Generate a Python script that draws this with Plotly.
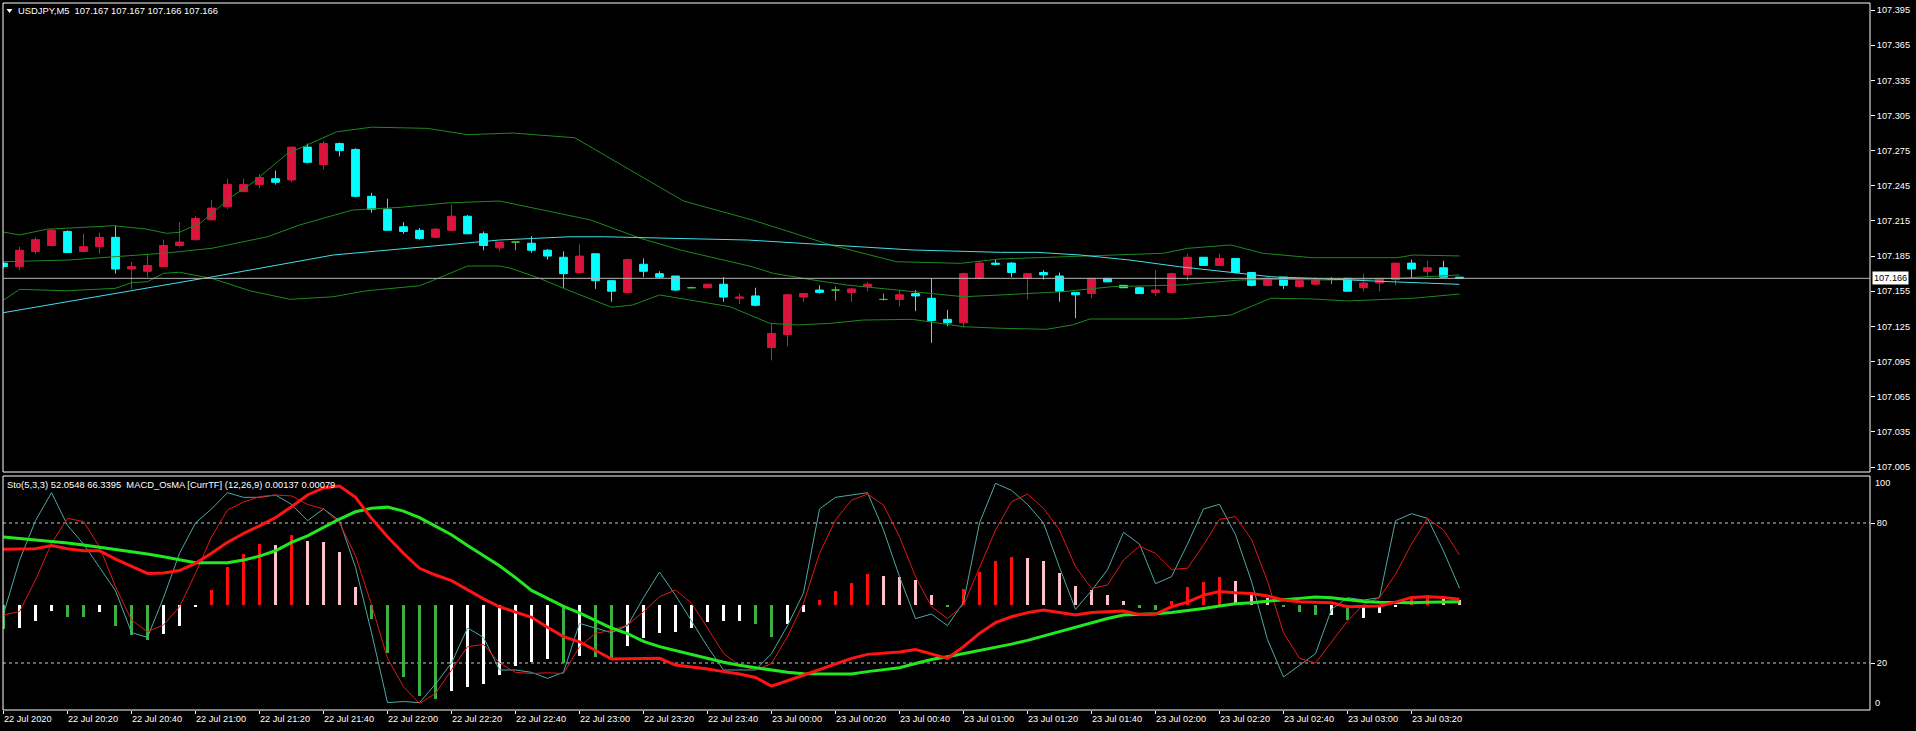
import plotly.graph_objects as go

# ---------------- data ----------------
bar_index = list(range(92))

open_ = [107.179, 107.176, 107.189, 107.194, 107.206, 107.189, 107.193, 107.201, 107.174, 107.172,
         107.176, 107.194, 107.199, 107.216, 107.227, 107.240, 107.246, 107.251, 107.250, 107.278,
         107.263, 107.281, 107.276, 107.236, 107.225, 107.210, 107.207, 107.201, 107.207, 107.219,
         107.204, 107.192, 107.197, 107.196, 107.190, 107.184, 107.171, 107.187, 107.164, 107.154,
         107.178, 107.170, 107.168, 107.158, 107.158, 107.161, 107.149, 107.151, 107.107, 107.118,
         107.150, 107.156, 107.156, 107.154, 107.159, 107.148, 107.148, 107.153, 107.149, 107.131,
         107.128, 107.166, 107.179, 107.179, 107.166, 107.171, 107.168, 107.154, 107.153, 107.166,
         107.160, 107.158, 107.154, 107.154, 107.169, 107.184, 107.177, 107.183, 107.171, 107.160,
         107.167, 107.159, 107.161, 107.165, 107.166, 107.158, 107.162, 107.165, 107.179, 107.172,
         107.175, 107.167]
high = [107.180, 107.193, 107.201, 107.208, 107.207, 107.204, 107.205, 107.211, 107.180, 107.187,
        107.199, 107.214, 107.219, 107.233, 107.251, 107.251, 107.255, 107.258, 107.278, 107.281,
        107.283, 107.282, 107.277, 107.239, 107.234, 107.214, 107.209, 107.209, 107.229, 107.220,
        107.206, 107.197, 107.197, 107.202, 107.191, 107.189, 107.195, 107.187, 107.164, 107.183,
        107.183, 107.172, 107.168, 107.159, 107.161, 107.167, 107.153, 107.158, 107.127, 107.153,
        107.153, 107.160, 107.159, 107.158, 107.163, 107.153, 107.156, 107.156, 107.166, 107.139,
        107.171, 107.181, 107.182, 107.180, 107.170, 107.173, 107.171, 107.154, 107.166, 107.166,
        107.160, 107.159, 107.173, 107.171, 107.187, 107.184, 107.187, 107.183, 107.171, 107.167,
        107.167, 107.164, 107.167, 107.167, 107.166, 107.170, 107.166, 107.179, 107.182, 107.181,
        107.181, 107.167]
low = [107.175, 107.173, 107.187, 107.193, 107.188, 107.188, 107.187, 107.170, 107.157, 107.167,
       107.176, 107.193, 107.198, 107.215, 107.225, 107.240, 107.243, 107.246, 107.248, 107.264,
       107.259, 107.270, 107.235, 107.222, 107.207, 107.204, 107.199, 107.200, 107.206, 107.204,
       107.190, 107.189, 107.190, 107.188, 107.182, 107.158, 107.170, 107.157, 107.146, 107.153,
       107.167, 107.166, 107.155, 107.158, 107.158, 107.146, 107.144, 107.142, 107.096, 107.108,
       107.146, 107.153, 107.147, 107.146, 107.155, 107.147, 107.142, 107.138, 107.111, 107.125,
       107.124, 107.165, 107.177, 107.167, 107.148, 107.165, 107.146, 107.132, 107.149, 107.163,
       107.158, 107.153, 107.151, 107.153, 107.164, 107.177, 107.177, 107.170, 107.159, 107.159,
       107.157, 107.158, 107.160, 107.161, 107.155, 107.155, 107.155, 107.160, 107.166, 107.167,
       107.167, 107.166]
close = [107.176, 107.190, 107.199, 107.207, 107.188, 107.193, 107.201, 107.174, 107.176, 107.177,
         107.194, 107.197, 107.217, 107.226, 107.246, 107.246, 107.252, 107.248, 107.278, 107.265,
         107.281, 107.275, 107.236, 107.225, 107.207, 107.206, 107.200, 107.208, 107.219, 107.204,
         107.194, 107.197, 107.197, 107.190, 107.185, 107.170, 107.185, 107.164, 107.155, 107.182,
         107.172, 107.167, 107.156, 107.158, 107.161, 107.150, 107.150, 107.143, 107.119, 107.152,
         107.153, 107.154, 107.156, 107.157, 107.161, 107.148, 107.152, 107.151, 107.130, 107.128,
         107.170, 107.179, 107.178, 107.171, 107.170, 107.169, 107.155, 107.152, 107.166, 107.163,
         107.158, 107.153, 107.156, 107.170, 107.184, 107.177, 107.183, 107.171, 107.160, 107.166,
         107.160, 107.164, 107.165, 107.165, 107.155, 107.162, 107.166, 107.179, 107.174, 107.175,
         107.167, 107.166]

# Bollinger bands (green) and moving average (cyan), read at bar positions
bb_upper_bar = [0, 1, 2.7, 6.9, 8.9, 10.2, 11, 12.3, 14.3, 15.6, 17.7, 19.6, 20.8, 23, 26.5, 29, 31.8,
                35.7, 38.7, 42.5, 46.8, 51.7, 55.8, 59.8, 62.3, 67.3, 72.5, 74, 76.7, 78.7, 81.8, 87.1, 88.1, 91]
bb_upper = [107.2055, 107.203, 107.2079, 107.2109, 107.2081, 107.2044, 107.2053, 107.2132, 107.236, 107.248,
            107.272, 107.284, 107.291, 107.295, 107.294, 107.2886, 107.290, 107.286, 107.262, 107.232,
            107.2158, 107.1945, 107.1802, 107.1788, 107.1825, 107.1851, 107.1874, 107.1916, 107.1945,
            107.1874, 107.1836, 107.1836, 107.1859, 107.1851]
bb_mid_bar = [0, 4, 7, 10, 13, 16.5, 18.5, 20.6, 21.8, 24.8, 27.9, 31, 36.7, 39.8, 42.3, 46.8, 48.1, 50.6,
              52.7, 55.8, 60, 62.3, 66.2, 69.3, 73.5, 77.3, 79.8, 82.9, 87.1, 91]
bb_mid = [107.1802, 107.1816, 107.1845, 107.1874, 107.1916, 107.2015, 107.2115, 107.220, 107.2243, 107.2266,
          107.2305, 107.232, 107.2158, 107.2002, 107.1902, 107.1759, 107.1703, 107.1646, 107.1603, 107.1561,
          107.1503, 107.1518, 107.1546, 107.1589, 107.1603, 107.1646, 107.1652, 107.1646, 107.166, 107.1689]
bb_lower_bar = [0, 1, 4, 7, 8, 9, 10, 11, 13, 15.4, 17.9, 20.6, 22.7, 26, 26.8, 29, 31, 31.7, 33.5, 35,
                38, 39.3, 41, 42.3, 45.4, 47.9, 49.6, 51.7, 53.7, 56.8, 60, 62.3, 65.2, 66.8, 67.9, 73.5,
                76.7, 79.2, 81.8, 84, 88.1, 91]
bb_lower = [107.1475, 107.1566, 107.1554, 107.1575, 107.1623, 107.1631, 107.1703, 107.1712, 107.166, 107.1554,
            107.1481, 107.1503, 107.1554, 107.1597, 107.164, 107.1765, 107.1765, 107.1746, 107.166, 107.1575,
            107.1413, 107.1432, 107.1518, 107.149, 107.1418, 107.1276, 107.1262, 107.1276, 107.1304, 107.131,
            107.1247, 107.1234, 107.1225, 107.1262, 107.1313, 107.1313, 107.1347, 107.149, 107.1484, 107.1467,
            107.149, 107.1526]
ma_bar = [0, 13.1, 20.6, 31, 35.4, 37.5, 46.5, 51.7, 56.8, 62.3, 64.6, 67.3, 70.4, 73.5, 77.3, 79.2, 81.8,
          84, 86.7, 91]
ma_value = [107.1367, 107.1674, 107.1859, 107.1987, 107.2015, 107.2015, 107.1987, 107.1945, 107.1902, 107.1882,
            107.1882, 107.1859, 107.1816, 107.1759, 107.1703, 107.1674, 107.166, 107.1646, 107.1631, 107.1609]

last_price = 107.166
price_ticks = [107.005, 107.035, 107.065, 107.095, 107.125, 107.155, 107.185, 107.215,
               107.245, 107.275, 107.305, 107.335, 107.365, 107.395]

time_tick_bars = list(range(0, 92, 4))
time_labels = ["22 Jul 2020", "22 Jul 20:20", "22 Jul 20:40", "22 Jul 21:00", "22 Jul 21:20",
               "22 Jul 21:40", "22 Jul 22:00", "22 Jul 22:20", "22 Jul 22:40", "22 Jul 23:00",
               "22 Jul 23:20", "22 Jul 23:40", "23 Jul 00:00", "23 Jul 00:20", "23 Jul 00:40",
               "23 Jul 01:00", "23 Jul 01:20", "23 Jul 01:40", "23 Jul 02:00", "23 Jul 02:20",
               "23 Jul 02:40", "23 Jul 03:00", "23 Jul 03:20"]

# Stochastic (5,3,3)
stoch_main = [41, 64, 81, 93, 79, 71, 61, 51, 33, 31,
              48, 67, 80, 86, 93, 91, 91, 92, 88, 81,
              86, 81, 61, 33, 3, 3.5, 3, 11, 20, 35,
              31, 17, 17, 16, 13.4, 16, 37, 35, 33, 36,
              48, 59, 49, 38, 27, 17, 17, 17, 24, 36,
              50, 86, 91, 92, 93, 77, 57, 39, 41, 36,
              46, 80, 97, 94, 88, 80, 61, 43, 51, 60,
              76, 71, 54, 57, 71, 86, 88, 75, 55, 30,
              14, 19, 24, 43, 48, 47, 48, 81, 84, 82,
              68, 52.05]
stoch_signal = [40.6, 42, 55.6, 71.3, 82, 80.6, 69.8, 52.7, 38.4, 33.4,
                36.3, 44.1, 58.4, 74, 85.6, 89, 91.3, 92, 91.6, 88,
                86, 80, 66, 45, 22, 9.8, 2.7, 7, 17, 27,
                28, 20, 16, 15.5, 15.8, 15.5, 27, 32.7, 34, 36.3,
                42, 48.4, 51.3, 45.6, 35, 24.1, 19, 17, 19.8, 31.3,
                45.6, 67, 81.3, 89.8, 92.4, 87.7, 74.1, 57, 44.1, 39.1,
                44.8, 61.3, 77, 89.1, 92.4, 86.3, 77, 61.3, 52, 53.4,
                64.1, 70.1, 67, 60.1, 60.6, 70.6, 81.6, 82.7, 73, 55,
                33, 22, 20, 29, 38, 45, 48, 58, 71, 82,
                77, 66.34]

# MACD_OsMA, as drawn in the sub-window scale
osma_zero_level = 44.8
macd_main = [68.7, 68.7, 69, 70.3, 69, 68.1, 68.1, 64.5, 61.5, 58.4,
             58.6, 59.6, 62.7, 67, 71.7, 75.5, 78.8, 82.3, 87, 92,
             95, 95.8, 91, 82, 74.1, 67, 60.6, 57.7, 55.3, 51.3,
             47.5, 44.1, 41.8, 39.6, 35.3, 31.3, 29.1, 25.3, 21.7, 21.8,
             22, 22, 19.1, 18.4, 17.4, 16.3, 15.3, 13.8, 10.1, 12.4,
             14.8, 17, 19.6, 22, 23.7, 24.3, 24.7, 25.8, 23.8, 22,
             27, 32.7, 37.3, 39.8, 41.6, 42.7, 41.6, 40.6, 41.6, 42.1,
             42.3, 40.8, 41, 44.1, 46.1, 49.1, 50.6, 50.1, 49.8, 48.7,
             47, 46.3, 46.1, 45.8, 44.1, 44.1, 44.4, 46.1, 48.1, 48.4,
             48.1, 47.3]
macd_signal = [74, 73.4, 72.8, 72.3, 71.4, 70.6, 69.7, 68.7, 67.7, 66.7,
               65.5, 64.3, 63, 63, 63, 64.1, 65.8, 68.1, 71.7, 74.5,
               78.2, 81.7, 84.8, 86.3, 86.8, 85.1, 82.3, 78.8, 75, 70.4,
               66, 61.7, 56.6, 51.1, 47.7, 44.3, 41.5, 38.1, 35, 32.6,
               29.3, 27, 25.3, 23.4, 21.8, 20.3, 19, 17.9, 17, 16,
               15.4, 15.3, 15.3, 15.3, 16.3, 17.3, 18, 19.8, 21.5, 22.7,
               24, 25.4, 26.7, 28.1, 29.7, 31.6, 33.3, 35.3, 37.3, 39.1,
               40.6, 40.8, 41.1, 41.6, 42.4, 43.4, 44.4, 45.4, 45.8, 46.6,
               47.1, 47.7, 48.3, 48, 47.1, 46.4, 46, 45.8, 45.8, 46,
               46.1, 46.3]
osma_hist = [-10.3, -9.6, -6.6, -2.7, -4.9, -4.9, -3.1, -8.9, -12.7, -14.9,
             -12.3, -8.9, -1.0, 6.6, 16.3, 22, 26.3, 25.9, 30.1, 27.6,
             26.9, 22.6, 7.7, -6, -20.6, -31, -39.1, -40.3, -36.6, -34.9,
             -33.7, -30.1, -25.9, -24.3, -23, -24.9, -21.6, -22.4, -22.6, -17.3,
             -14, -11.9, -11.6, -9.7, -7.1, -7.0, -6.7, -8.1, -13.6, -8.1,
             -2.9, 2.1, 6, 9.6, 13.3, 12.4, 12, 10.7, 4.3, -0.7,
             6.9, 14.3, 19, 20.7, 20, 19, 13.9, 8.1, 6.7, 4.3,
             1.7, -1.1, -1.9, 1.7, 7.9, 10, 11.9, 10.3, 5.3, 2.9,
             -0.7, -2.9, -4.3, -4.1, -6.4, -5.4, -3.3, -0.8, 3.6, 4.3,
             3.1, 2.1]
stoch_levels = [20, 80]

# ---------------- styling / layout constants ----------------
W, H = 1916, 731
PL, PR, PT, PB = 3, 1870, 3, 710          # plot area in pixels
MAIN_BOTTOM, SUB_TOP = 472, 476
FONT = "Liberation Sans, Arial, sans-serif"
BULL, BEAR, DOJI = "#DC143C", "#00FFFF", "#32CD32"


def px_x(p):
    return (p - PL) / (PR - PL)


def px_y(p):
    return (PB - p) / (PB - PT)


fig = go.Figure()

# ---- main pane: candles ----
groups = {"bull": [], "bear": [], "doji": []}
for i in bar_index:
    if close[i] > open_[i]:
        groups["bull"].append(i)
    elif close[i] < open_[i]:
        groups["bear"].append(i)
    else:
        groups["doji"].append(i)

for name, col in (("bull", BULL), ("bear", BEAR), ("doji", DOJI)):
    idx = groups[name]
    fig.add_trace(go.Candlestick(
        x=[bar_index[i] for i in idx],
        open=[open_[i] for i in idx], high=[high[i] for i in idx],
        low=[low[i] for i in idx], close=[close[i] for i in idx],
        increasing=dict(line=dict(color=col, width=1), fillcolor=col),
        decreasing=dict(line=dict(color=col, width=1), fillcolor=col),
        whiskerwidth=0, xaxis="x", yaxis="y", hoverinfo="skip"))

for xs, ys, col in ((bb_upper_bar, bb_upper, "#1E8A1E"), (bb_mid_bar, bb_mid, "#1E8A1E"),
                    (bb_lower_bar, bb_lower, "#1E8A1E"), (ma_bar, ma_value, "#40E0E8")):
    fig.add_trace(go.Scatter(x=xs, y=ys, mode="lines", line=dict(color=col, width=1),
                             xaxis="x", yaxis="y", hoverinfo="skip"))

# ---- indicator pane ----
HIST_UP, HIST_POS_DOWN, HIST_NEG_UP, HIST_NEG_DOWN = "#FF1010", "#FFC0CB", "#FFFFFF", "#3CB043"
hist_colors = []
for i, v in enumerate(osma_hist):
    prev = osma_hist[i - 1] if i else v
    if v >= 0:
        hist_colors.append(HIST_UP if (i and v >= prev) else HIST_POS_DOWN)
    else:
        hist_colors.append(HIST_NEG_UP if (i and v > prev) else HIST_NEG_DOWN)

fig.add_trace(go.Bar(x=bar_index, y=osma_hist, base=osma_zero_level, width=0.24,
                     marker=dict(color=hist_colors, line=dict(width=0)),
                     xaxis="x2", yaxis="y2", hoverinfo="skip"))
fig.add_trace(go.Scatter(x=bar_index, y=stoch_main, mode="lines",
                         line=dict(color="#4FA8A4", width=1), xaxis="x2", yaxis="y2", hoverinfo="skip"))
fig.add_trace(go.Scatter(x=bar_index, y=stoch_signal, mode="lines",
                         line=dict(color="#E01818", width=1), xaxis="x2", yaxis="y2", hoverinfo="skip"))
fig.add_trace(go.Scatter(x=bar_index, y=macd_signal, mode="lines",
                         line=dict(color="#22E822", width=3), xaxis="x2", yaxis="y2", hoverinfo="skip"))
fig.add_trace(go.Scatter(x=bar_index, y=macd_main, mode="lines",
                         line=dict(color="#FF1414", width=3), xaxis="x2", yaxis="y2", hoverinfo="skip"))

x_range = [(PL - 3.5) / 16.0, (PR - 3.5) / 16.0]
main_dom = [px_y(MAIN_BOTTOM), 1.0]
sub_dom = [0.0, px_y(SUB_TOP)]

price_per_px = (107.395 - 107.005) / (467 - 10)
main_range = [107.005 - (MAIN_BOTTOM - 467) * price_per_px, 107.395 + (10 - PT) * price_per_px]
val_per_px = 60 / (663 - 523)
sub_range = [20 - (PB - 663) * val_per_px, 80 + (523 - SUB_TOP) * val_per_px]

tickfont = dict(family=FONT, size=9.2, color="#FFFFFF")
headfont = dict(family=FONT, size=9.4, color="#FFFFFF")
shapes = [
    dict(type="rect", xref="paper", yref="paper", x0=0, x1=1, y0=main_dom[0], y1=1,
         line=dict(color="#FFFFFF", width=1), layer="above"),
    dict(type="rect", xref="paper", yref="paper", x0=0, x1=1, y0=0, y1=sub_dom[1],
         line=dict(color="#FFFFFF", width=1), layer="above"),
    dict(type="line", xref="paper", yref="y", x0=0, x1=1, y0=last_price, y1=last_price,
         line=dict(color="#B4B4B4", width=1), layer="above"),
    dict(type="path", xref="paper", yref="paper",
         path=f"M {px_x(6.5)},{px_y(9)} L {px_x(12.5)},{px_y(9)} L {px_x(9.5)},{px_y(13)} Z",
         fillcolor="#FFFFFF", line=dict(color="#FFFFFF", width=0)),
]
for lv in stoch_levels:
    shapes.append(dict(type="line", xref="paper", yref="y2", x0=0, x1=1, y0=lv, y1=lv,
                       line=dict(color="#C8C8C8", width=1, dash="3px,3px"), layer="below"))

annotations = [
    dict(xref="paper", yref="paper", x=px_x(16), y=px_y(11), xanchor="left", yanchor="middle",
         text="USDJPY,M5\u00a0\u00a0107.167 107.167 107.166 107.166", showarrow=False, font=headfont),
    dict(xref="paper", yref="paper", x=px_x(5), y=px_y(484), xanchor="left", yanchor="middle",
         text="Sto(5,3,3) 52.0548 66.3395\u00a0\u00a0MACD_OsMA [CurrTF] (12,26,9) 0.00137 0.00079",
         showarrow=False, font=headfont),
    dict(xref="paper", yref="y", x=1, y=last_price, xanchor="left", yanchor="middle", xshift=2,
         text=f"{last_price:.3f}", showarrow=False, bgcolor="#FFFFFF", borderpad=1,
         font=dict(family=FONT, size=9.2, color="#000000")),
    dict(xref="paper", yref="paper", x=1, y=px_y(483), xanchor="left", yanchor="middle", xshift=3,
         text="100", showarrow=False, font=tickfont),
    dict(xref="paper", yref="paper", x=1, y=px_y(703), xanchor="left", yanchor="middle", xshift=3,
         text="0", showarrow=False, font=tickfont),
]

fig.update_layout(
    width=W, height=H,
    margin=dict(l=PL, r=W - PR, t=PT, b=H - PB, pad=0),
    paper_bgcolor="#000000", plot_bgcolor="#000000",
    showlegend=False, hovermode=False, dragmode=False, bargap=0,
    xaxis=dict(domain=[0, 1], anchor="y", range=x_range, showticklabels=False, showgrid=False,
               zeroline=False, showline=False, ticks="", rangeslider=dict(visible=False)),
    yaxis=dict(domain=main_dom, anchor="x", range=main_range, side="right", showgrid=False,
               zeroline=False, showline=False, tickvals=price_ticks,
               ticktext=[f"{v:.3f}" for v in price_ticks], ticks="outside", ticklen=4,
               tickcolor="#FFFFFF", tickfont=tickfont),
    xaxis2=dict(domain=[0, 1], anchor="y2", range=x_range, showgrid=False, zeroline=False,
                showline=False, tickvals=time_tick_bars, ticktext=time_labels, ticks="outside",
                ticklen=3, tickcolor="#FFFFFF", tickfont=tickfont, ticklabelposition="outside right",
                rangeslider=dict(visible=False)),
    yaxis2=dict(domain=sub_dom, anchor="x2", range=sub_range, side="right", showgrid=False,
                zeroline=False, showline=False, tickvals=stoch_levels,
                ticktext=[str(v) for v in stoch_levels], ticks="outside", ticklen=4,
                tickcolor="#FFFFFF", tickfont=tickfont),
    shapes=shapes, annotations=annotations,
)

fig.write_html("out.html", config={"staticPlot": True})
